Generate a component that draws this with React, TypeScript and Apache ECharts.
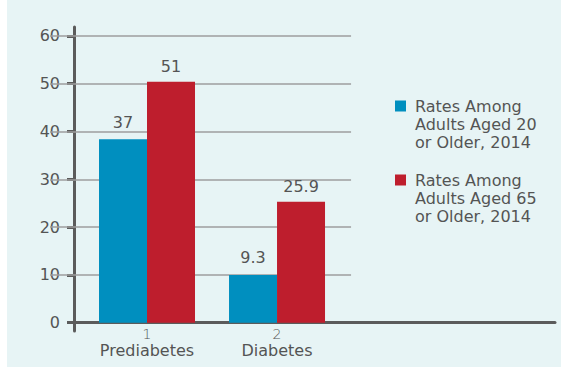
import React, { useEffect, useRef } from "react";
import * as echarts from "echarts";

const categories = ["Prediabetes", "Diabetes"];
const categoryNumbers = [1, 2];
const seriesNames = [
  "Rates Among\nAdults Aged 20\nor Older, 2014",
  "Rates Among\nAdults Aged 65\nor Older, 2014",
];
// bar heights as drawn in the picture, and the printed value labels
const adults20Values = [38.4, 10.0];
const adults20Labels = ["37", "9.3"];
const adults65Values = [50.4, 25.3];
const adults65Labels = ["51", "25.9"];
const yTicks = [0, 10, 20, 30, 40, 50, 60];

const BLUE = "#008fbf";
const RED = "#be1e2d";
const TEXT = "#545454";
const AXIS = "#5b5b5b";
const FONT = "DejaVu Sans";

const X_MIN = 0.4385;
const X_MAX = 4.138;
const X_GRID_END = 2.754;

export default function App() {
  const ref = useRef<HTMLDivElement>(null);
  useEffect(() => {
    document.body.style.margin = "0";
    const chart = echarts.init(ref.current!, null, { renderer: "svg" });
    const seriesColors = [BLUE, RED];
    const option: any = {
      animation: false,
      backgroundColor: "transparent",
      grid: { left: 74, right: 6, top: 27, bottom: 37 },
      xAxis: [
        {
          type: "value",
          min: X_MIN,
          max: X_MAX,
          axisLine: { onZero: true, lineStyle: { color: AXIS, width: 3 } },
          axisTick: { show: false },
          splitLine: { show: false },
          axisLabel: {
            customValues: categoryNumbers,
            margin: -4,
            fontSize: 14,
            lineHeight: 13,
            fontWeight: 300,
            color: TEXT,
            fontFamily: FONT,
          },
        },
        {
          type: "value",
          position: "bottom",
          min: X_MIN,
          max: X_MAX,
          axisLine: { show: false, onZero: false },
          axisTick: { show: false },
          splitLine: { show: false },
          axisLabel: {
            customValues: categoryNumbers,
            margin: 11,
            fontSize: 16,
            lineHeight: 17,
            color: TEXT,
            fontFamily: FONT,
            formatter: (v: number) => categories[categoryNumbers.indexOf(v)],
          },
        },
      ],
      yAxis: {
        type: "value",
        min: -1.74,
        max: 61.86,
        axisLine: { show: true, onZero: false, lineStyle: { color: AXIS, width: 3 } },
        axisTick: {
          show: true,
          length: 7,
          customValues: yTicks,
          lineStyle: { color: AXIS, width: 3 },
        },
        splitLine: { show: false },
        axisLabel: {
          customValues: yTicks,
          margin: 14,
          fontSize: 16,
          color: TEXT,
          fontFamily: FONT,
        },
      },
      series: [
        {
          name: seriesNames[0],
          type: "bar",
          xAxisIndex: 0,
          barWidth: 48,
          barGap: "0%",
          z: 2,
          itemStyle: { color: BLUE },
          data: adults20Values.map((v, i) => [categoryNumbers[i], v]),
          label: {
            show: true,
            position: "top",
            distance: 9,
            fontSize: 16,
            fontFamily: FONT,
            color: TEXT,
            formatter: (p: any) => adults20Labels[p.dataIndex],
          },
          markLine: {
            silent: true,
            z: 1,
            symbol: ["none", "none"],
            label: { show: false },
            lineStyle: { color: "#9e9e9e", width: 1.5, type: "solid" },
            data: yTicks
              .filter((v) => v > 0)
              .map((v) => [{ coord: [X_MIN, v] }, { coord: [X_GRID_END, v] }]),
          },
        },
        {
          name: seriesNames[1],
          type: "bar",
          xAxisIndex: 0,
          barWidth: 48,
          barGap: "0%",
          z: 2,
          itemStyle: { color: RED },
          data: adults65Values.map((v, i) => [categoryNumbers[i], v]),
          label: {
            show: true,
            position: "top",
            distance: 7,
            fontSize: 16,
            fontFamily: FONT,
            color: TEXT,
            formatter: (p: any) => adults65Labels[p.dataIndex],
          },
        },
      ],
      graphic: seriesNames.flatMap((name, i) => [
        {
          type: "rect",
          shape: { x: 395, y: 100.5 + i * 74, width: 11, height: 11 },
          style: { fill: seriesColors[i] },
        },
        {
          type: "text",
          x: 415,
          y: 97 + i * 74,
          style: {
            text: name,
            fontSize: 16,
            fontFamily: FONT,
            fill: TEXT,
            lineHeight: 18,
            verticalAlign: "top",
          },
        },
      ]),
    };
    chart.setOption(option);
    return () => chart.dispose();
  }, []);
  return (
    <div style={{ position: "relative", width: 561, height: 368, background: "#ffffff" }}>
      <div style={{ position: "absolute", left: 7, top: 0, width: 554, height: 367, background: "#e7f4f5" }} />
      <div ref={ref} style={{ position: "absolute", left: 0, top: 0, width: 561, height: 368 }} />
    </div>
  );
}
